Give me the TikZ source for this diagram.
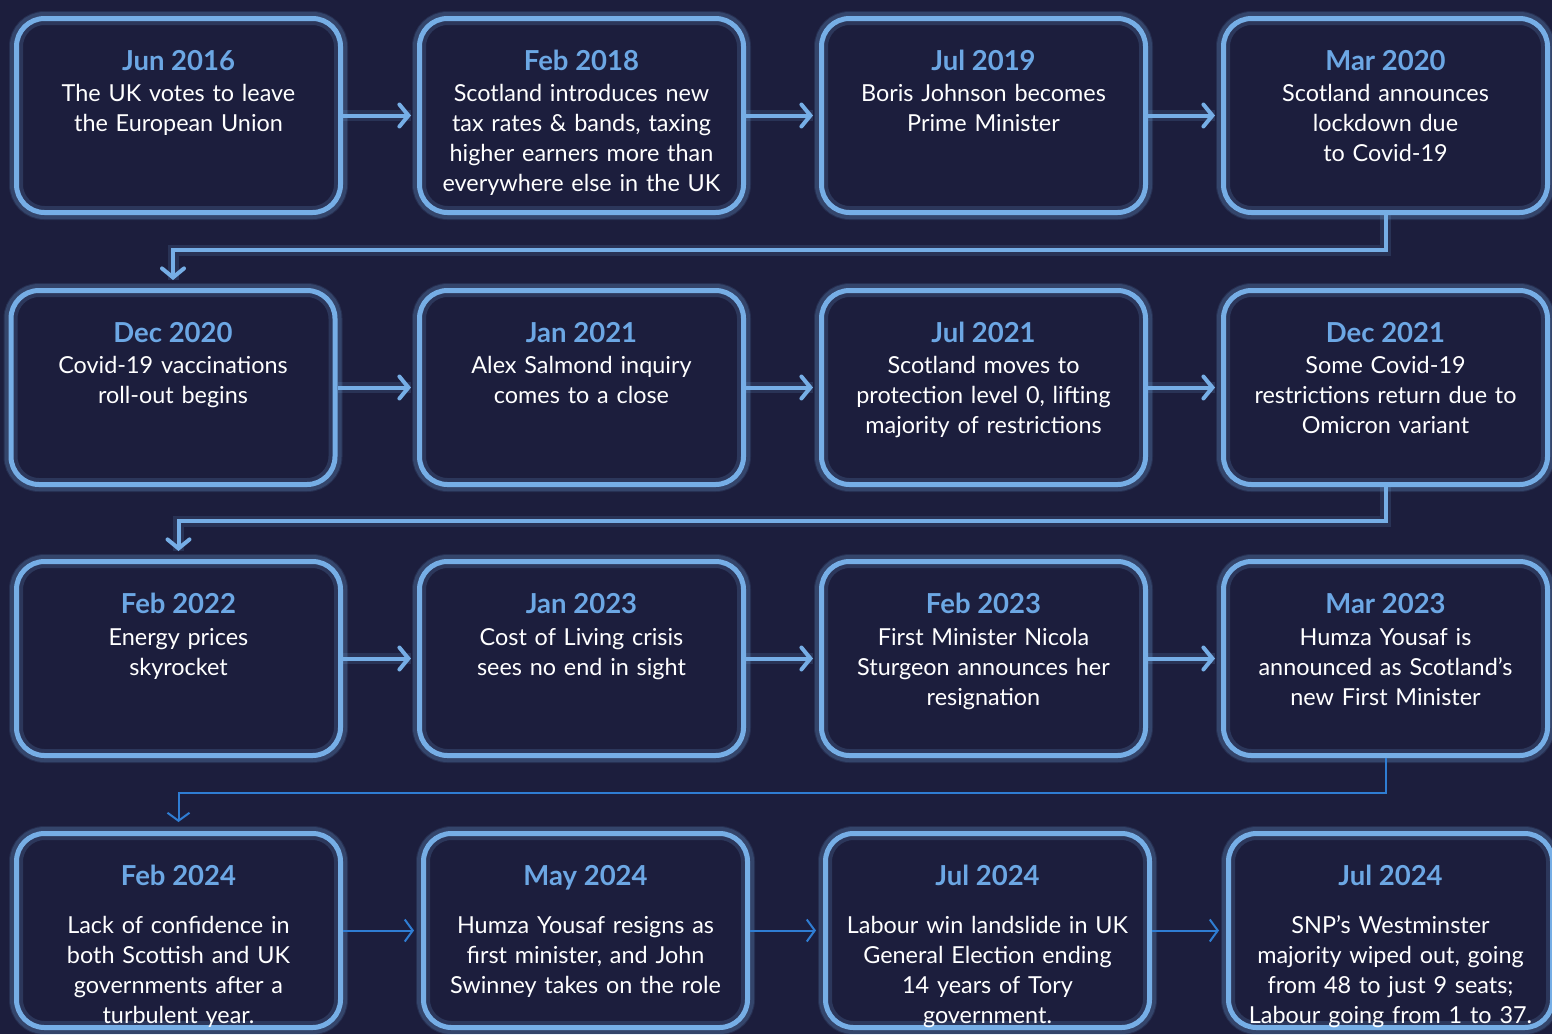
\documentclass[tikz,border=0pt]{standalone}
\usepackage{fontspec}
\setmainfont{Lato}
\usetikzlibrary{arrows.meta}
\definecolor{bg}{HTML}{1C1E3D}
\definecolor{bord}{HTML}{76AEE6}
\definecolor{datec}{HTML}{6CA7E4}
\definecolor{thinc}{HTML}{2F7DD3}
\tikzset{
  evbox/.style={draw=bord, line width=5pt, rounded corners=28pt, minimum width=324pt,
    minimum height=194pt, fill=bg, inner sep=0pt,
    preaction={draw=bord, line width=15pt, opacity=0.12},
    postaction={draw=bord, line width=13pt, opacity=0.18}},
  datetxt/.style={text=datec, font=\bfseries\fontsize{27.5pt}{30pt}\selectfont, inner sep=0pt},
  bodytxt/.style={text=white, font=\fontsize{23.4pt}{30pt}\selectfont, inner sep=0pt,
    text width=330pt, align=center},
  harrow/.style={draw=bord, line width=4pt, -{Straight Barb[length=9pt,width=22pt,line cap=round]},
    preaction={draw=bord, line width=11pt, opacity=0.15, -}},
  tarrow/.style={draw=thinc, line width=2pt, -{Straight Barb[length=8pt,width=22pt]}},
}
\newcommand\evt[6]{%
  \node[evbox] (#1) at (#2,#3+98.5) {};
  \node[datetxt, anchor=base] (#1d) at (#2,#3+53) {#4};
  \node[bodytxt, anchor=base] (#1t) at (#2,#3+#6) {#5};}
\begin{document}
\begin{tikzpicture}[x=1pt,y=-1pt]
\fill[bg] (0,0) rectangle (1552,1034);
\useasboundingbox (0,0) rectangle (1552,1034);
% row 1
\evt{a1}{178.5}{17}{Jun 2016}{The UK votes to leave\\the European Union}{84}
\evt{a2}{581.5}{17}{Feb 2018}{Scotland introduces new\\tax rates \& bands, taxing\\higher earners more than\\everywhere else in the UK}{84}
\evt{a3}{983.5}{17}{Jul 2019}{Boris Johnson becomes\\Prime Minister}{84}
\evt{a4}{1385.5}{17}{Mar 2020}{Scotland announces\\lockdown due\\to Covid-19}{84}
% row 2
\evt{b1}{173}{289}{Dec 2020}{Covid-19 vaccinations\\roll-out begins}{84}
\evt{b2}{581.5}{289}{Jan 2021}{Alex Salmond inquiry\\comes to a close}{84}
\evt{b3}{983.5}{289}{Jul 2021}{Scotland moves to\\protection level 0, lifting\\majority of restrictions}{84}
\evt{b4}{1385.5}{289}{Dec 2021}{Some Covid-19\\restrictions return due to\\Omicron variant}{84}
% row 3
\evt{c1}{178.5}{560}{Feb 2022}{Energy prices\\skyrocket}{85}
\evt{c2}{581.5}{560}{Jan 2023}{Cost of Living crisis\\sees no end in sight}{85}
\evt{c3}{983.5}{560}{Feb 2023}{First Minister Nicola\\Sturgeon announces her\\resignation}{85}
\evt{c4}{1385.5}{560}{Mar 2023}{Humza Yousaf is\\announced as Scotland’s\\new First Minister}{85}
% row 4
\evt{d1}{178.5}{832}{Feb 2024}{Lack of confidence in\\both Scottish and UK\\governments after a\\turbulent year.}{101}
\evt{d2}{585.5}{832}{May 2024}{Humza Yousaf resigns as\\first minister, and John\\Swinney takes on the role}{101}
\evt{d3}{987.5}{832}{Jul 2024}{Labour win landslide in UK\\General Election ending\\14 years of Tory\\government.}{101}
\evt{d4}{1390.5}{832}{Jul 2024}{SNP’s Westminster\\majority wiped out, going\\from 48 to just 9 seats;\\Labour going from 1 to 37.}{101}
% connectors
\draw[harrow, shorten >=6pt] (a1.east) -- (a2.west);
\draw[harrow, shorten >=6pt] (a2.east) -- (a3.west);
\draw[harrow, shorten >=6pt] (a3.east) -- (a4.west);
\draw[harrow, shorten >=8pt] (a4.south) -- ++(0,35) -| (b1.north);
\draw[harrow, shorten >=6pt] (b1.east) -- (b2.west);
\draw[harrow, shorten >=6pt] (b2.east) -- (b3.west);
\draw[harrow, shorten >=6pt] (b3.east) -- (b4.west);
\draw[harrow, shorten >=8pt] (b4.south) -- ++(0,34) -| (c1.north);
\draw[tarrow, shorten >=9pt] (c4.south) -- ++(0,35) -| (d1.north);
\draw[harrow, shorten >=6pt] (c1.east) -- (c2.west);
\draw[harrow, shorten >=6pt] (c2.east) -- (c3.west);
\draw[harrow, shorten >=6pt] (c3.east) -- (c4.west);
\draw[tarrow, shorten >=7pt] (d1.east) -- (d2.west);
\draw[tarrow, shorten >=7pt] (d2.east) -- (d3.west);
\draw[tarrow, shorten >=7pt] (d3.east) -- (d4.west);
\end{tikzpicture}
\end{document}
